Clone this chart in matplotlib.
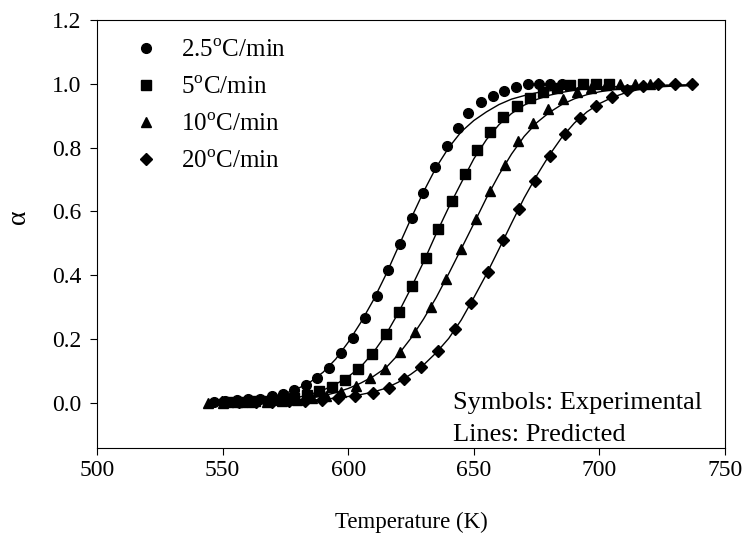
import matplotlib
matplotlib.use("Agg")
import matplotlib.pyplot as plt
from matplotlib.lines import Line2D

plt.rcParams["font.family"] = "Liberation Serif"
plt.rcParams["mathtext.fontset"] = "custom"
plt.rcParams["mathtext.rm"] = "Liberation Serif"

# ---- experimental points (symbols) ----
t_25 = [546.4, 551.0, 555.6, 560.2, 564.9, 569.5, 573.9, 578.5, 583.2, 587.7,
        592.4, 597.1, 602.0, 606.7, 611.3, 616.0, 620.6, 625.3, 629.9, 634.6,
        639.2, 643.6, 647.8, 652.7, 657.5, 662.1, 666.8, 671.7, 676.1, 680.3, 684.9]
a_25 = [0.004, 0.005, 0.009, 0.011, 0.013, 0.022, 0.029, 0.039, 0.055, 0.079,
        0.110, 0.155, 0.204, 0.265, 0.335, 0.416, 0.497, 0.579, 0.659, 0.738,
        0.805, 0.862, 0.909, 0.943, 0.963, 0.979, 0.990, 0.998, 1.0, 1.0, 1.0]

t_5 = [552.3, 557.6, 562.9, 568.1, 573.3, 578.5, 583.7, 588.5, 593.4, 598.7,
       604.0, 609.4, 614.9, 620.2, 625.5, 630.8, 635.9, 641.2, 646.5, 651.2,
       656.4, 661.7, 667.1, 672.4, 677.7, 683.0, 688.3, 693.4, 698.6, 703.8]
a_5 = [0.002, 0.003, 0.005, 0.007, 0.010, 0.015, 0.025, 0.037, 0.051, 0.073,
       0.105, 0.152, 0.215, 0.285, 0.366, 0.455, 0.546, 0.632, 0.716, 0.792,
       0.850, 0.897, 0.930, 0.954, 0.974, 0.987, 0.996, 1.0, 1.0, 1.0]

t_10 = [544.1, 550.0, 555.9, 561.8, 567.7, 573.6, 579.5, 585.4, 591.3, 597.2,
        603.1, 608.7, 614.6, 620.6, 626.7, 632.8, 639.0, 644.8, 650.9, 656.4,
        662.4, 667.7, 673.4, 679.4, 685.4, 690.9, 696.7, 702.5, 708.3, 714.2, 720.1]
a_10 = [0.001, 0.001, 0.002, 0.003, 0.004, 0.007, 0.010, 0.015, 0.023, 0.035,
        0.052, 0.078, 0.107, 0.158, 0.222, 0.300, 0.387, 0.481, 0.575, 0.664,
        0.745, 0.820, 0.878, 0.920, 0.953, 0.974, 0.987, 0.995, 1.0, 1.0, 1.0]

t_20 = [549.9, 556.5, 563.1, 569.7, 576.3, 582.9, 589.5, 596.1, 602.7, 609.8,
        616.1, 622.3, 629.0, 635.6, 642.4, 648.9, 655.5, 661.7, 668.0, 674.4,
        680.3, 686.3, 692.3, 698.5, 704.9, 710.9, 717.2, 723.4, 730.1, 736.7]
a_20 = [0.002, 0.003, 0.003, 0.004, 0.005, 0.007, 0.010, 0.015, 0.023, 0.032,
        0.047, 0.075, 0.111, 0.161, 0.230, 0.314, 0.410, 0.510, 0.607, 0.695,
        0.774, 0.842, 0.893, 0.931, 0.959, 0.980, 0.994, 1.0, 1.0, 1.0]

# ---- predicted curves (lines) ----
t_pred = [545, 550, 555, 560, 565, 570, 575, 580, 585, 590, 595, 600, 605, 610,
          615, 620, 625, 630, 635, 640, 645, 650, 655, 660, 665, 670, 675, 680,
          685, 690, 695, 700, 705, 710, 715, 720, 725, 730, 735]
p_25 = [0.0, 0.002, 0.004, 0.008, 0.013, 0.020, 0.030, 0.045, 0.066, 0.096,
        0.137, 0.190, 0.252, 0.322, 0.402, 0.490, 0.578, 0.662, 0.738, 0.800,
        0.850, 0.885, 0.912, 0.935, 0.952, 0.963, 0.972, 0.978, 0.982, 0.985,
        0.988, 0.990, 0.991, 0.992, 0.993, 0.994, 0.995, 0.996, 0.996]
p_5 = [0.0, 0.0, 0.001, 0.002, 0.004, 0.007, 0.011, 0.017, 0.027, 0.040,
       0.058, 0.082, 0.113, 0.158, 0.214, 0.283, 0.360, 0.442, 0.530, 0.613,
       0.690, 0.765, 0.825, 0.872, 0.907, 0.933, 0.951, 0.964, 0.973, 0.980,
       0.985, 0.988, 0.990, 0.992, 0.993, 0.994, 0.995, 0.996, 0.996]
p_10 = [0.0, 0.001, 0.001, 0.002, 0.003, 0.005, 0.007, 0.010, 0.015, 0.022,
        0.032, 0.045, 0.062, 0.083, 0.110, 0.152, 0.203, 0.263, 0.330, 0.405,
        0.483, 0.562, 0.642, 0.715, 0.780, 0.835, 0.878, 0.910, 0.935, 0.953,
        0.966, 0.975, 0.981, 0.985, 0.988, 0.990, 0.992, 0.993, 0.994]
p_20 = [0.0, 0.001, 0.001, 0.002, 0.002, 0.003, 0.004, 0.006, 0.008, 0.011,
        0.015, 0.020, 0.026, 0.034, 0.046, 0.065, 0.090, 0.119, 0.157, 0.202,
        0.260, 0.330, 0.403, 0.482, 0.563, 0.642, 0.712, 0.776, 0.832, 0.877,
        0.912, 0.938, 0.957, 0.971, 0.981, 0.987, 0.991, 0.993, 0.995]

labels = [r"2.5$^{\rm o}$C/min", r"5$^{\rm o}$C/min",
          r"10$^{\rm o}$C/min", r"20$^{\rm o}$C/min"]

fig = plt.figure(figsize=(7.46, 5.54), dpi=100)
ax = fig.add_axes([0.130, 0.1922, 0.842, 0.7717])

series = [(t_25, a_25, p_25, "o", 7), (t_5, a_5, p_5, "s", 6.5),
          (t_10, a_10, p_10, "^", 7.5), (t_20, a_20, p_20, "D", 6.5)]

handles = []
for (t, a, p, m, ms), lab in zip(series, labels):
    ax.plot(t_pred, p, color="black", lw=1.0, zorder=2)
    ax.plot(t, a, linestyle="none", marker=m, ms=ms, color="black", zorder=3)
    handles.append(Line2D([], [], linestyle="none", marker=m, ms=ms,
                          color="black", label=lab))

ax.set_xlim(500, 750)
ax.set_ylim(-0.14, 1.2)
ax.set_xticks([500, 550, 600, 650, 700, 750])
ax.set_yticks([0.0, 0.2, 0.4, 0.6, 0.8, 1.0, 1.2])
ax.set_yticklabels(["0.0", "0.2", "0.4", "0.6", "0.8", "1.0", "1.2"])
ax.tick_params(direction="out", length=5, width=0.8, labelsize=17)
ax.tick_params(axis="x", pad=4)
ax.tick_params(axis="y", pad=6)
for sp in ax.spines.values():
    sp.set_linewidth(0.8)

ax.set_xlabel("Temperature (K)", fontsize=16.5, labelpad=22)
ax.set_ylabel("α", fontsize=20)
ax.yaxis.set_label_coords(-0.105, 0.54)

ax.legend(handles=handles, loc="upper left", frameon=False, fontsize=18,
          handlelength=1.0, handletextpad=0.9, labelspacing=0.58,
          borderaxespad=0.0, bbox_to_anchor=(0.043, 0.978))

ax.text(641.5, 0.0, "Symbols: Experimental", fontsize=19, va="center")
ax.text(641.5, -0.10, "Lines: Predicted", fontsize=19, va="center")

fig.savefig("out.png", dpi=100)
